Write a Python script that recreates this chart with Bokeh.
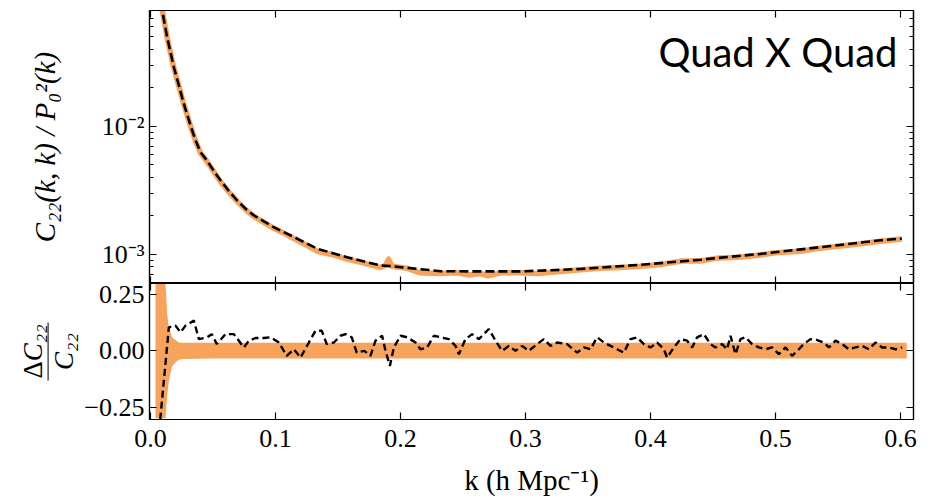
from bokeh.plotting import figure
from bokeh.models import Range1d, FixedTicker, LinearAxis, LogAxis, Label, Div
from bokeh.layouts import column, row
from bokeh.embed import file_html
from bokeh.resources import INLINE

# ---------------- data ----------------
k_theory = [0.003, 0.006, 0.0094, 0.0133, 0.0187, 0.0227, 0.0267, 0.032, 0.036, 0.040,
            0.0453, 0.0507, 0.056, 0.0627, 0.0693, 0.076, 0.0827, 0.0987, 0.1147, 0.1333,
            0.1573, 0.184, 0.192, 0.232, 0.264, 0.296, 0.344, 0.392, 0.44, 0.488,
            0.536, 0.584, 0.601]
c22_theory = [0.30, 0.14, 0.080, 0.0498, 0.0290, 0.0209, 0.0150, 0.0102, 0.0078, 0.0063,
              0.0054, 0.00448, 0.0038, 0.00313, 0.00264, 0.00228, 0.00202, 0.00163, 0.00137, 0.00111,
              0.00095, 0.00082, 0.00081, 0.00074, 0.000737, 0.000737, 0.00077, 0.00083, 0.00091, 0.00101,
              0.00114, 0.00129, 0.00133]

k_sims = [0.003, 0.006, 0.0094, 0.0133, 0.0187, 0.0227, 0.0267, 0.032, 0.036, 0.040,
          0.0453, 0.0507, 0.056, 0.0627, 0.0693, 0.076, 0.0827,
          0.0987, 0.106, 0.1147, 0.125, 0.1333, 0.145, 0.1573, 0.17, 0.184, 0.188,
          0.1905, 0.193, 0.205, 0.215, 0.232, 0.245, 0.255, 0.264, 0.27, 0.28,
          0.296, 0.31, 0.33, 0.344, 0.36, 0.375, 0.392, 0.41, 0.425, 0.44,
          0.455, 0.47, 0.488, 0.50, 0.52, 0.536, 0.55, 0.565, 0.584, 0.601]
c22_sims = [0.30, 0.14, 0.081, 0.0495, 0.0285, 0.0206, 0.0148, 0.0101, 0.0077, 0.0062,
            0.0053, 0.00442, 0.0037, 0.00307, 0.0026, 0.00224, 0.00198,
            0.00160, 0.00148, 0.00133, 0.00118, 0.00106, 0.00100, 0.00092, 0.00086, 0.00079, 0.00082,
            0.00092, 0.00081, 0.00078, 0.00072, 0.00071, 0.00072, 0.00069, 0.00071, 0.00068, 0.00072,
            0.00072, 0.00071, 0.00074, 0.00076, 0.00078, 0.00079, 0.00081, 0.00084, 0.00089, 0.00089,
            0.00094, 0.00095, 0.00099, 0.00103, 0.00106, 0.00112, 0.00116, 0.00120, 0.00127, 0.00132]

k_band = [0.004, 0.008, 0.012, 0.0133, 0.0147, 0.0173, 0.0213, 0.0227, 0.026, 0.05,
          0.1, 0.2, 0.3, 0.4, 0.5, 0.605]
band_hi = [0.30, 0.30, 0.30, 0.165, 0.104, 0.060, 0.042, 0.037, 0.036, 0.036,
           0.036, 0.036, 0.036, 0.036, 0.036, 0.036]
band_lo = [-0.30, -0.30, -0.30, -0.20, -0.134, -0.067, -0.045, -0.040, -0.036, -0.034,
           -0.034, -0.034, -0.034, -0.034, -0.034, -0.034]

k_ratio = [0.0045, 0.0147, 0.0200, 0.0240, 0.0280, 0.0347, 0.0387, 0.0453, 0.0490, 0.0530,
           0.0600, 0.0667, 0.0747, 0.0787, 0.0840, 0.0907, 0.0960, 0.1027, 0.1090, 0.1147,
           0.1200, 0.1267, 0.1320, 0.1370, 0.1410, 0.1467, 0.1520, 0.1560, 0.1610, 0.1650,
           0.1710, 0.1760, 0.1800, 0.1853, 0.1880, 0.1915, 0.1947, 0.2000, 0.2053, 0.2120,
           0.2160, 0.2213, 0.2267, 0.2320, 0.2387, 0.2440, 0.2467, 0.2520, 0.2573, 0.2627,
           0.2707, 0.2760, 0.2813, 0.2867, 0.2920, 0.2973, 0.3027, 0.3093, 0.3147, 0.3200,
           0.3253, 0.3333, 0.3413, 0.3467, 0.3520, 0.3573, 0.3627, 0.3680, 0.3733, 0.3787,
           0.3840, 0.3893, 0.3947, 0.4000, 0.4053, 0.4107, 0.4133, 0.4187, 0.4240, 0.4293,
           0.4333, 0.4373, 0.4427, 0.4480, 0.4520, 0.4573, 0.4613, 0.4640, 0.4680, 0.4720,
           0.4760, 0.4813, 0.4867, 0.4920, 0.4973, 0.5027, 0.5080, 0.5133, 0.5187, 0.5227,
           0.5280, 0.5333, 0.5387, 0.5427, 0.5480, 0.5533, 0.5587, 0.5640, 0.5693, 0.5747,
           0.5800, 0.5853, 0.5907, 0.5960, 0.6013]
ratio = [-0.50, 0.104, 0.112, 0.082, 0.112, 0.134, 0.052, 0.060, 0.074, 0.030,
         0.074, 0.074, 0.015, 0.045, 0.057, 0.057, 0.060, 0.037, -0.022, 0.007,
         -0.030, 0.037, 0.089, 0.089, 0.030, 0.037, 0.067, 0.074, 0.060, -0.008,
         0.000, -0.022, 0.045, 0.067, 0.000, -0.067, 0.015, 0.067, 0.060, 0.037,
         0.007, 0.015, 0.067, 0.060, 0.052, 0.022, -0.015, 0.052, 0.074, 0.052,
         0.097, 0.045, 0.000, 0.022, 0.000, 0.022, 0.000, 0.030, 0.052, 0.022,
         0.037, 0.030, -0.008, 0.015, 0.007, 0.060, 0.037, 0.022, 0.007, -0.008,
         0.052, 0.060, 0.030, 0.015, 0.037, 0.007, -0.030, 0.015, 0.052, 0.045,
         0.015, 0.060, 0.074, 0.030, 0.015, 0.030, 0.007, 0.067, -0.015, 0.052,
         0.060, 0.030, 0.015, 0.007, 0.015, -0.015, 0.015, -0.022, 0.007, 0.030,
         0.052, 0.048, 0.037, 0.015, 0.045, 0.030, 0.007, 0.015, 0.022, 0.007,
         0.037, 0.015, 0.015, 0.007, 0.015]

x_ticks = [0.0, 0.1, 0.2, 0.3, 0.4, 0.5, 0.6]
x_tick_labels = ["0.0", "0.1", "0.2", "0.3", "0.4", "0.5", "0.6"]
log_ticks = [0.001, 0.01]
log_tick_labels = ["10\u207b\u00b3", "10\u207b\u00b2"]
log_minor_ticks = [0.0006, 0.0007, 0.0008, 0.0009, 0.002, 0.003, 0.004, 0.005, 0.006,
                   0.007, 0.008, 0.009, 0.02, 0.03, 0.04, 0.05, 0.06, 0.07, 0.08]
ratio_ticks = [-0.25, 0.0, 0.25]
ratio_tick_labels = ["\u22120.25", "0.00", "0.25"]

title_text = "Quad X Quad"
top_ylabel = "C\u2082\u2082(k, k) / P\u2080\u00b2(k)"
xlabel = "k (h Mpc\u207b\u00b9)"
frac_num_delta = "\u0394"
frac_num_rest = "C\u2082\u2082"
frac_den = "C\u2082\u2082"

ORANGE = "#F7A35C"
SERIF = "Liberation Serif"
TICK_FS = "26px"
OVERLAP = 8  # px the lower panel's canvas slides under the upper one
FRAC_W = 79


# ---------------- helpers ----------------
def base_style(ax):
    ax.axis_line_color = "black"
    ax.major_tick_line_color = "black"
    ax.minor_tick_line_color = "black"
    ax.axis_line_width = 1.2
    ax.major_tick_line_width = 1.2
    ax.minor_tick_line_width = 1.0
    ax.major_tick_in = 7
    ax.major_tick_out = 0
    ax.minor_tick_in = 4
    ax.minor_tick_out = 0


def labelled_axis(ax, ticks, labels, minor=None):
    ax.ticker = FixedTicker(ticks=ticks, minor_ticks=minor or [])
    base_style(ax)
    ax.major_label_overrides = {t: l for t, l in zip(ticks, labels)}
    ax.major_label_text_font = SERIF
    ax.major_label_text_font_size = TICK_FS
    ax.major_label_text_color = "black"


def mirror_axis(ax, ticks, length):
    # tick marks only: ticks given as minor ticks so no labels are drawn
    ax.ticker = FixedTicker(ticks=[], minor_ticks=ticks)
    base_style(ax)
    ax.minor_tick_in = length
    ax.minor_tick_line_width = 1.2 if length > 5 else 1.0


x_range = Range1d(-0.0008, 0.6104)

# ---------------- top panel ----------------
top = figure(frame_width=764, frame_height=273, y_axis_type="log",
             x_range=x_range, y_range=Range1d(5.93e-4, 0.0805),
             output_backend="svg", toolbar_location=None,
             min_border_top=10, min_border_left=149, min_border_right=5, min_border_bottom=0)
top.grid.visible = False
top.outline_line_color = "black"
top.outline_line_width = 1.2

top.line(k_sims, c22_sims, line_color=ORANGE, line_width=5.5, line_join="round")
top.line(k_theory, c22_theory, line_color="black", line_width=2.6, line_dash="9 4")

mirror_axis(top.xaxis[0], x_ticks, 7)
labelled_axis(top.yaxis[0], log_ticks, log_tick_labels, log_minor_ticks)
top.yaxis[0].axis_label = top_ylabel
top.yaxis[0].axis_label_text_font = SERIF
top.yaxis[0].axis_label_text_font_style = "italic"
top.yaxis[0].axis_label_text_font_size = "29px"
top.yaxis[0].axis_label_text_color = "black"
top.yaxis[0].axis_label_standoff = 38

ax = LinearAxis()
mirror_axis(ax, x_ticks, 7)
top.add_layout(ax, "above")
ax = LogAxis()
mirror_axis(ax, log_ticks, 7)
top.add_layout(ax, "right")
ax = LogAxis()
mirror_axis(ax, log_minor_ticks, 4)
top.add_layout(ax, "right")

top.add_layout(Label(x=0.5976, y=0.0379, text=title_text, text_align="right",
                     text_baseline="alphabetic", text_font="Lato",
                     text_font_size="40px", text_color="black"))

# ---------------- bottom panel ----------------
bot = figure(frame_width=764, frame_height=136,
             x_range=x_range, y_range=Range1d(-0.305, 0.299),
             output_backend="svg", toolbar_location=None,
             min_border_top=OVERLAP, min_border_left=149 - FRAC_W, min_border_right=5,
             min_border_bottom=0)
bot.grid.visible = False
bot.outline_line_color = "black"
bot.outline_line_width = 1.2
bot.border_fill_color = None

bot.varea(x=k_band, y1=band_lo, y2=band_hi, fill_color=ORANGE, fill_alpha=1.0)
bot.line(k_ratio, ratio, line_color="black", line_width=2.4, line_dash="7 4")

labelled_axis(bot.xaxis[0], x_ticks, x_tick_labels)
bot.xaxis[0].major_label_standoff = 10
bot.xaxis[0].axis_label = xlabel
bot.xaxis[0].axis_label_text_font = SERIF
bot.xaxis[0].axis_label_text_font_style = "normal"
bot.xaxis[0].axis_label_text_font_size = "29px"
bot.xaxis[0].axis_label_text_color = "black"
bot.xaxis[0].axis_label_standoff = 14
labelled_axis(bot.yaxis[0], ratio_ticks, ratio_tick_labels)

ax = LinearAxis()
mirror_axis(ax, x_ticks, 7)
bot.add_layout(ax, "above")
ax = LinearAxis()
mirror_axis(ax, ratio_ticks, 7)
bot.add_layout(ax, "right")

# stacked fraction label (Delta C22 over C22) as real HTML text
frac_html = (
    f'<div style="width:{FRAC_W}px;height:{136 + OVERLAP}px;padding-top:{OVERLAP}px;box-sizing:border-box;'
    'display:flex;align-items:center;justify-content:flex-end;padding-right:2px;">'
    '<div style="transform:rotate(-90deg);font-family:\'Liberation Serif\',serif;font-style:italic;'
    'font-size:27px;line-height:28px;color:#000;text-align:center;white-space:nowrap;">'
    '<div style="border-bottom:1.5px solid #000;padding:0 2px 1px 2px;">'
    f'<span style="font-style:normal;">{frac_num_delta}</span>{frac_num_rest}</div>'
    f'<div style="padding-top:1px;">{frac_den}</div>'
    '</div></div>'
)
frac = Div(text=frac_html, width=FRAC_W, height=136 + OVERLAP, margin=0)

lower = row(frac, bot, spacing=0, margin=(-OVERLAP, 0, 0, 0))
layout = column(top, lower, spacing=0)
open("out.html", "w").write(file_html(layout, INLINE))
